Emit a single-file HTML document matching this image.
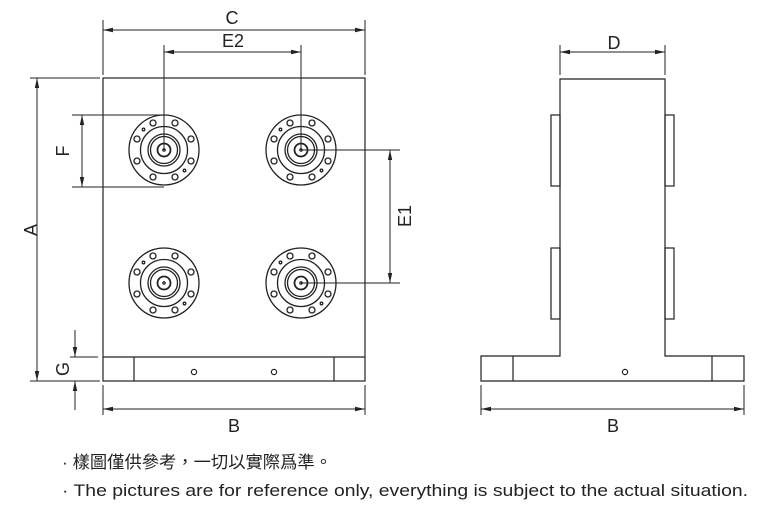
<!DOCTYPE html>
<html><head><meta charset="utf-8"><style>
html,body{margin:0;padding:0;background:#fff;width:757px;height:512px;overflow:hidden}
svg{display:block}
text{font-family:"Liberation Sans","Noto Sans CJK TC",sans-serif;fill:#222}
</style></head><body>
<svg width="757" height="512" viewBox="0 0 757 512" xmlns="http://www.w3.org/2000/svg">
<defs>
<marker id="ar" viewBox="0 0 10 6" refX="10" refY="3" markerWidth="10" markerHeight="6" orient="auto-start-reverse" markerUnits="userSpaceOnUse"><path d="M0,0.8 L10,3 L0,5.2z" fill="#222"/></marker>
<g id="fl" fill="none" stroke="#222" stroke-width="1.3">
<circle r="35"/><circle r="23.5"/><circle r="16"/><circle r="13.5"/><circle r="6.5" stroke-width="1.8"/><circle r="1.2"/>
<circle cx="11" cy="-27" r="3"/><circle cx="-11" cy="-27" r="3"/><circle cx="11" cy="27" r="3"/><circle cx="-11" cy="27" r="3"/>
<circle cx="27" cy="-11" r="3"/><circle cx="-27" cy="-11" r="3"/><circle cx="27" cy="11" r="3"/><circle cx="-27" cy="11" r="3"/>
<circle cx="-20.5" cy="-20.5" r="1.3"/><circle cx="20.5" cy="20.5" r="1.3"/>
</g>
</defs>
<g fill="none" stroke="#222" stroke-width="1.2">
<rect x="103" y="78" width="262" height="303"/>
<line x1="103" y1="357" x2="365" y2="357"/>
<line x1="134" y1="357" x2="134" y2="381"/>
<line x1="334" y1="357" x2="334" y2="381"/>
<circle cx="194" cy="372" r="2.6"/><circle cx="274" cy="372" r="2.6"/>
</g>
<use href="#fl" x="164" y="150"/><use href="#fl" x="301" y="150"/>
<use href="#fl" x="164" y="283"/><use href="#fl" x="301" y="283"/>
<g fill="none" stroke="#222" stroke-width="1">
<line x1="103" y1="20" x2="103" y2="75"/><line x1="365" y1="20" x2="365" y2="75"/>
<line x1="103" y1="30" x2="365" y2="30" marker-start="url(#ar)" marker-end="url(#ar)"/>
<line x1="164" y1="45" x2="164" y2="150"/><line x1="301" y1="45" x2="301" y2="150"/>
<line x1="164" y1="52" x2="301" y2="52" marker-start="url(#ar)" marker-end="url(#ar)"/>
<line x1="72" y1="115" x2="164" y2="115"/><line x1="72" y1="187" x2="164" y2="187"/>
<line x1="82" y1="115" x2="82" y2="187" marker-start="url(#ar)" marker-end="url(#ar)"/>
<line x1="30" y1="78" x2="100" y2="78"/><line x1="30" y1="381" x2="100" y2="381"/>
<line x1="37" y1="78" x2="37" y2="381" marker-start="url(#ar)" marker-end="url(#ar)"/>
<line x1="70" y1="357" x2="98" y2="357"/>
<line x1="75" y1="330" x2="75" y2="357" marker-end="url(#ar)"/>
<line x1="75" y1="410" x2="75" y2="381" marker-end="url(#ar)"/>
<line x1="301" y1="150" x2="400" y2="150"/><line x1="301" y1="283" x2="400" y2="283"/>
<line x1="390" y1="150" x2="390" y2="283" marker-start="url(#ar)" marker-end="url(#ar)"/>
<line x1="103" y1="385" x2="103" y2="415"/><line x1="365" y1="385" x2="365" y2="415"/>
<line x1="103" y1="409" x2="365" y2="409" marker-start="url(#ar)" marker-end="url(#ar)"/>
</g>
<g fill="none" stroke="#222" stroke-width="1.2">
<path d="M560,356 L560,79 L665,79 L665,356 L744,356 L744,381 L481,381 L481,356 Z"/>
<line x1="513" y1="356" x2="513" y2="381"/><line x1="712" y1="356" x2="712" y2="381"/>
<circle cx="625" cy="372" r="2.6"/>
<rect x="551" y="115" width="9" height="71"/><rect x="551" y="248" width="9" height="71"/>
<rect x="665" y="115" width="9" height="71"/><rect x="665" y="248" width="9" height="71"/>
</g>
<g fill="none" stroke="#222" stroke-width="1">
<line x1="560" y1="45" x2="560" y2="75"/><line x1="665" y1="45" x2="665" y2="75"/>
<line x1="560" y1="52" x2="665" y2="52" marker-start="url(#ar)" marker-end="url(#ar)"/>
<line x1="481" y1="385" x2="481" y2="415"/><line x1="744" y1="385" x2="744" y2="415"/>
<line x1="481" y1="409" x2="744" y2="409" marker-start="url(#ar)" marker-end="url(#ar)"/>
</g>
<g font-size="18" text-anchor="middle">
<text x="232" y="24">C</text>
<text x="233" y="47">E2</text>
<text x="614" y="49">D</text>
<text x="234" y="432">B</text>
<text x="613" y="432">B</text>
<text transform="translate(69,151) rotate(-90)">F</text>
<text transform="translate(37,230) rotate(-90)">A</text>
<text transform="translate(69,369) rotate(-90)">G</text>
<text transform="translate(411,216) rotate(-90)">E1</text>
</g>
<g font-size="17">
<text x="62" y="468" textLength="270" lengthAdjust="spacingAndGlyphs">· 樣圖僅供參考，一切以實際爲準。</text>
<text x="62" y="496" textLength="686" lengthAdjust="spacingAndGlyphs">· The pictures are for reference only, everything is subject to the actual situation.</text>
</g>
</svg>
</body></html>
